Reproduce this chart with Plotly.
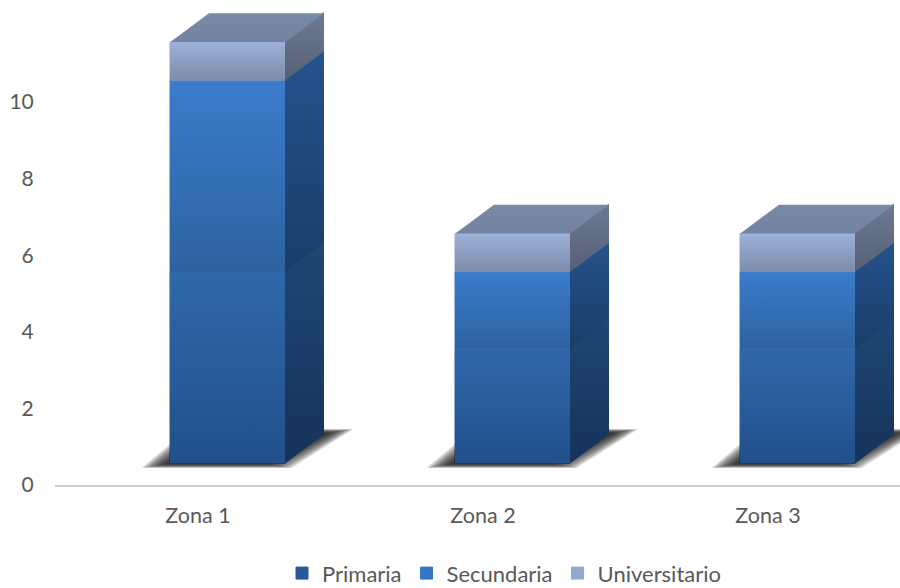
import plotly.graph_objects as go

categories = ["Zona 1", "Zona 2", "Zona 3"]
primaria = [5, 3, 3]
secundaria = [5, 2, 2]
universitario = [1, 1, 1]
y_ticks = [0, 2, 4, 6, 8, 10]

series = [
    ("Primaria", primaria, "#28599a", ("#21508a", "#2f68ab"), ("#16335a", "#1f4674")),
    ("Secundaria", secundaria, "#3676c4", ("#2d62a0", "#3b7ccc"), ("#1b3c68", "#24538c")),
    ("Universitario", universitario, "#94a8d0", ("#7e8ba8", "#9db2da"), ("#565f75", "#6d7994")),
]

# geometry of the drawing (pixels of the plot area)
W, H = 900, 588
ML, MB = 55, 103
PX_PER_Y = 38.3
PX_PER_X = 285.0
FIRST_CAT_PX = 198.0
BAR_W = 115 / PX_PER_X
BAR_SHIFT = 29.5 / PX_PER_X
DX = 39 / PX_PER_X
DY = 29 / PX_PER_Y
FLOOR = 21.5 / PX_PER_Y
EPS = 0.03

fig = go.Figure()
xs = [i + BAR_SHIFT for i in range(len(categories))]


def poly(xv, yv, **kw):
    fig.add_trace(go.Scatter(
        x=xv, y=yv, mode="lines", fill="toself", line=dict(width=0),
        showlegend=False, hoverinfo="skip", **kw))


def grad(y0, y1, low, high):
    return dict(type="vertical", start=y0, stop=y1, colorscale=[[0, low], [1, high]])


# real bars (they also carry the legend)
bases = [FLOOR] * len(categories)
all_segments = []
for name, vals, col, front, side in series:
    fig.add_trace(go.Bar(
        x=xs, y=vals, base=list(bases), width=BAR_W, name=name,
        marker=dict(color=col, line=dict(width=1, color=col)), hoverinfo="skip"))
    for i, v in enumerate(vals):
        all_segments.append((i, bases[i], bases[i] + v, front, side))
        bases[i] += v

# floor shadows: stacked translucent layers give a soft edge
for x in xs:
    cx = x * PX_PER_X + FIRST_CAT_PX
    for k in range(12):
        ins = k * 2.2
        v = k * 0.35
        px = [cx - 86 + ins, cx - 40 + ins, cx + 126 - ins, cx + 64 - ins]
        py = [468 - v, 429 + v, 429 + v, 468 - v]
        poly([(p - FIRST_CAT_PX) / PX_PER_X for p in px] + [(px[0] - FIRST_CAT_PX) / PX_PER_X],
             [(485 - p) / PX_PER_Y for p in py] + [(485 - py[0]) / PX_PER_Y],
             fillcolor="rgba(30,30,30,0.15)")

# side faces (each one overlapped a little by the next one, to avoid seams)
for i, y0, y1, front, side in all_segments:
    x1 = xs[i] + BAR_W / 2
    poly([x1, x1 + DX, x1 + DX, x1, x1], [y0, y0 + DY, y1 + DY + EPS, y1 + EPS, y0],
         fillgradient=grad(y0, y1 + DY, side[0], side[1]))

# top faces
for i, x in enumerate(xs):
    xl, xr = x - BAR_W / 2, x + BAR_W / 2
    t = bases[i]
    poly([xl, xl + DX, xr + DX, xr, xl], [t, t + DY, t + DY, t, t],
         fillgradient=grad(t, t + DY, "#73829f", "#7889a8"))

# front faces with gradient
for i, y0, y1, front, side in all_segments:
    xl, xr = xs[i] - BAR_W / 2, xs[i] + BAR_W / 2
    poly([xl, xr, xr, xl, xl], [y0, y0, y1, y1, y0],
         fillgradient=grad(y0, y1, front[0], front[1]))

FONT = "Lato, Carlito, sans-serif"
fig.update_layout(
    width=W, height=H, autosize=False, barmode="overlay",
    margin=dict(l=ML, r=0, t=0, b=MB),
    paper_bgcolor="white", plot_bgcolor="white",
    font=dict(family=FONT, color="#595959", size=21),
    legend=dict(orientation="h", xref="container", yref="container",
                x=0.56, xanchor="center", y=0.025, yanchor="middle",
                font=dict(size=22, color="#595959"), itemwidth=30,
                traceorder="normal", bgcolor="rgba(0,0,0,0)"),
    xaxis=dict(range=[(ML - FIRST_CAT_PX) / PX_PER_X, (W - FIRST_CAT_PX) / PX_PER_X],
               tickvals=list(range(len(categories))), ticktext=categories,
               showgrid=False, zeroline=False, showline=True, linecolor="#d0d0d0", linewidth=2,
               ticks="outside", ticklen=10, tickcolor="rgba(0,0,0,0)",
               tickfont=dict(size=21.5, color="#595959")),
    yaxis=dict(range=[0, 485 / PX_PER_Y], tickvals=y_ticks,
               showgrid=False, zeroline=False, showline=False,
               ticks="outside", ticklen=16, tickcolor="rgba(0,0,0,0)",
               tickfont=dict(size=21, color="#595959")),
)
fig.write_html("out.html", config=dict(displayModeBar=False),
               post_script="document.body.style.margin='0';document.documentElement.style.overflow='hidden';")
